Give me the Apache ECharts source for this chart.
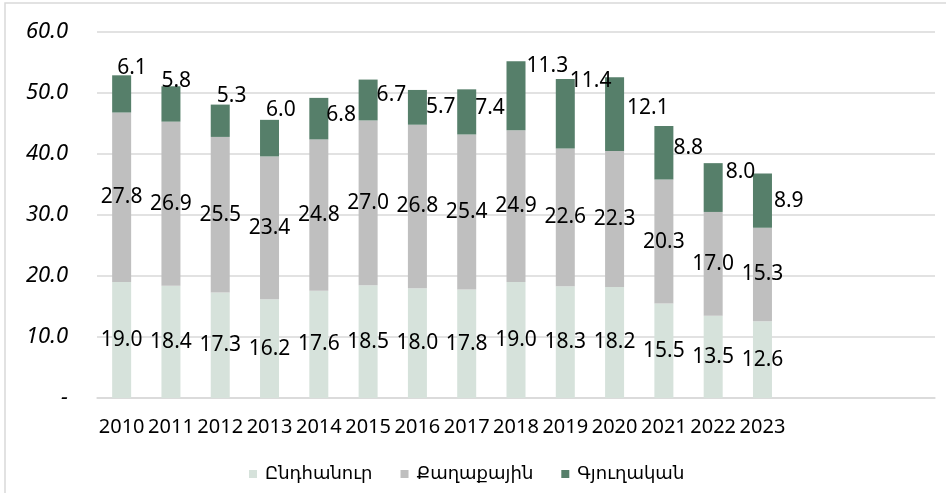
<!DOCTYPE html>
<html>
<head>
    <meta charset="utf-8">
    <title>stacked</title>
    <script src="https://cdn.jsdelivr.net/npm/echarts@6/dist/echarts.min.js"></script>
    <style type="text/css">
    html, body { margin: 0; padding: 0; background: #fff; }
    #main { width: 946px; height: 493px; }
    </style>
</head>
<body>
    <div id="main"></div>
    <script type="text/javascript">
    // years (the last three slots are empty in the original sheet)
    var years = ['2010', '2011', '2012', '2013', '2014', '2015', '2016', '2017', '2018', '2019', '2020', '2021', '2022', '2023', '', '', ''];
    var names = ['Ընդհանուր', 'Քաղաքային', 'Գյուղական'];

    var totalVals = [19.0, 18.4, 17.3, 16.2, 17.6, 18.5, 18.0, 17.8, 19.0, 18.3, 18.2, 15.5, 13.5, 12.6];
    var urbanVals = [27.8, 26.9, 25.5, 23.4, 24.8, 27.0, 26.8, 25.4, 24.9, 22.6, 22.3, 20.3, 17.0, 15.3];
    var ruralVals = [6.1, 5.8, 5.3, 6.0, 6.8, 6.7, 5.7, 7.4, 11.3, 11.4, 12.1, 8.8, 8.0, 8.9];

    // hand placed labels of the top segment, [dx, dy] from the 'right' spot
    var ruralLabelShift = [[-14, -26], [-19, -23], [-13, -25], [-13, -28], [-2, -4], [-1, -5], [-1, 0],
        [-1, -4], [1, -30], [-5, -33], [3, -6], [0, -5], [3, -16], [2, 0]];

    var colors = ['#d6e2db', '#bfbfbf', '#567f6a'];
    var font = '"Noto Sans", "DejaVu Sans", sans-serif';

    var myChart = echarts.init(document.getElementById('main'));

    var fmt = function (p) { return p.value.toFixed(1); };

    var ruralData = ruralVals.map(function (v, i) {
        return {
            value: v,
            label: { offset: ruralLabelShift[i] }
        };
    });

    var option = {
        backgroundColor: '#fff',
        animation: false,
        textStyle: { fontFamily: font },
        graphic: [{
            type: 'rect',
            shape: { x: 5, y: 3, width: 1000, height: 600 },
            style: { fill: 'none', stroke: '#d9d9d9', lineWidth: 1.5 },
            silent: true
        }],
        grid: { left: 97, right: 11, top: 32, bottom: 95 },
        legend: {
            left: 244,
            top: 460,
            itemWidth: 8,
            itemHeight: 8,
            itemGap: 28,
            icon: 'rect',
            textStyle: { fontSize: 18, color: '#000', fontFamily: font, padding: [0, 0, 0, 3] },
            data: names
        },
        xAxis: {
            type: 'category',
            data: years,
            axisLine: { show: true, lineStyle: { color: '#d9d9d9', width: 1.5 } },
            axisTick: { show: false },
            axisLabel: { fontSize: 20, color: '#000', margin: 19, interval: 0, fontFamily: font }
        },
        yAxis: {
            type: 'value',
            min: 0,
            max: 60,
            interval: 10,
            axisLine: { show: false },
            axisTick: { show: false },
            splitLine: { lineStyle: { color: '#d9d9d9', width: 1.5 } },
            axisLabel: {
                fontSize: 22,
                fontStyle: 'italic',
                color: '#000',
                margin: 29,
                fontFamily: font,
                formatter: function (v) { return v === 0 ? '-' : v.toFixed(1); }
            }
        },
        series: [{
            name: names[0],
            type: 'bar',
            stack: 'a',
            barWidth: 19,
            itemStyle: { color: colors[0] },
            label: { show: true, position: 'inside', fontSize: 21, color: '#000', formatter: fmt },
            data: totalVals
        }, {
            name: names[1],
            type: 'bar',
            stack: 'a',
            barWidth: 19,
            itemStyle: { color: colors[1] },
            label: { show: true, position: 'inside', fontSize: 21, color: '#000', formatter: fmt },
            data: urbanVals
        }, {
            name: names[2],
            type: 'bar',
            stack: 'a',
            barWidth: 19,
            itemStyle: { color: colors[2] },
            label: { show: true, position: 'right', distance: 0, fontSize: 21, color: '#000', formatter: fmt },
            data: ruralData
        }]
    };

    myChart.setOption(option);
    </script>
</body>
</html>
